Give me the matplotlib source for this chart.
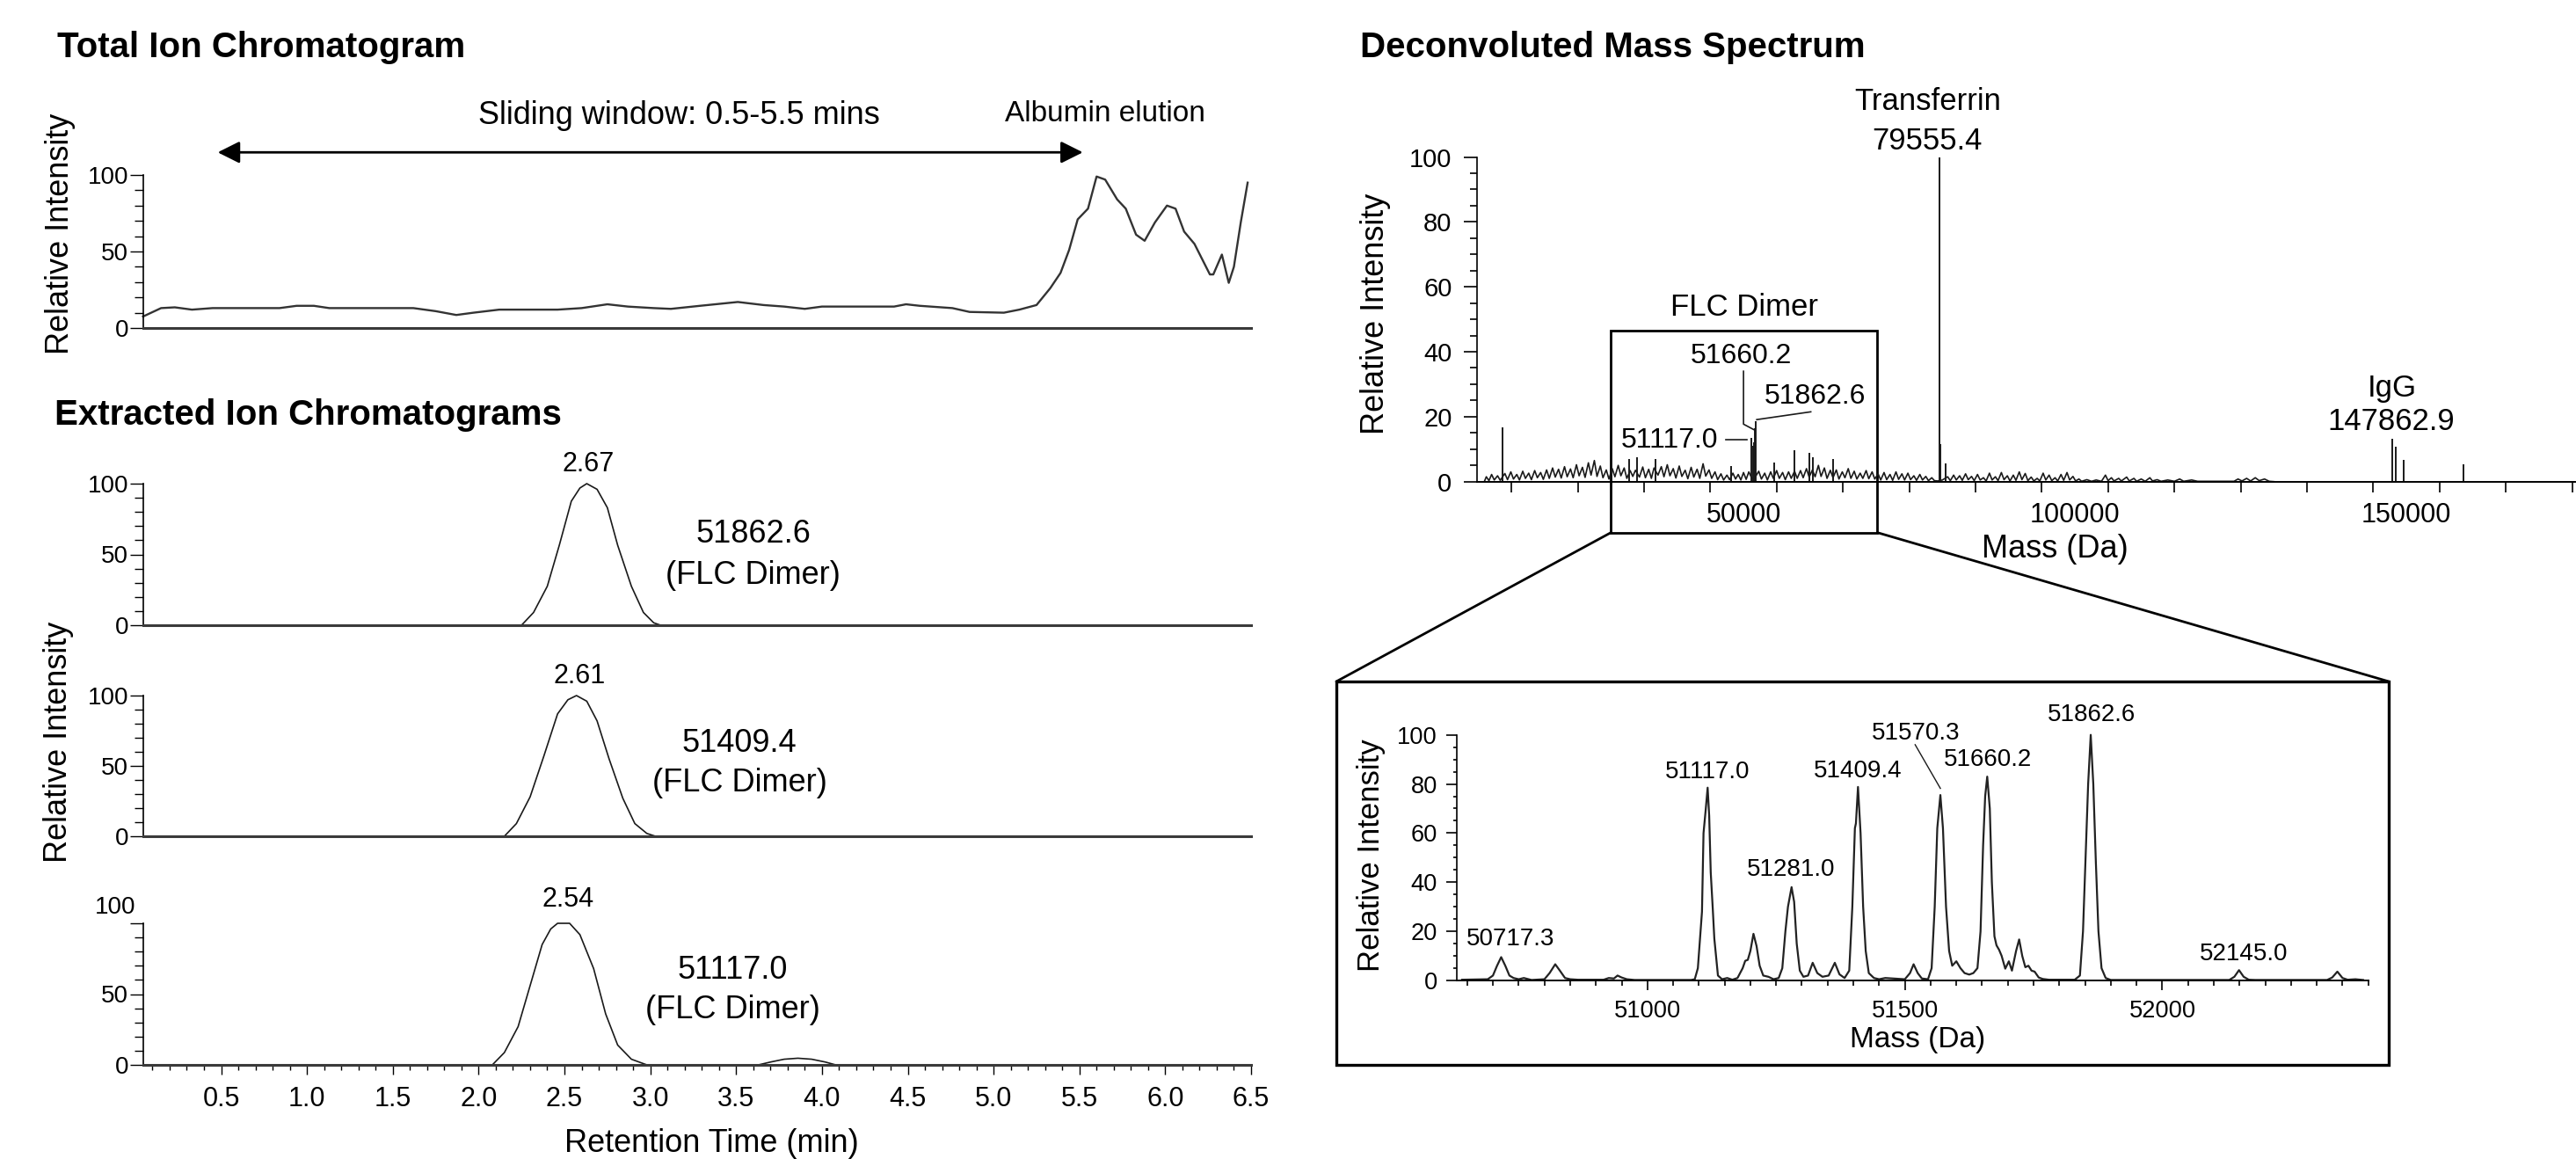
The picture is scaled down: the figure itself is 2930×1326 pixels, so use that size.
import numpy as np
import matplotlib
matplotlib.use('Agg')
import matplotlib.pyplot as plt
from matplotlib.ticker import MultipleLocator, FormatStrFormatter
from matplotlib.patches import Rectangle, ConnectionPatch

plt.rcParams['font.family'] = ['Liberation Sans', 'DejaVu Sans']

# ---- total ion chromatogram (min, %)
tic_time = [0.045, 0.15, 0.23, 0.33, 0.45, 0.84, 0.94, 1.04, 1.13, 1.62, 1.75, 1.87, 1.97, 2.12,
            2.46, 2.60, 2.75, 2.87, 3.02, 3.12, 3.29, 3.51, 3.66, 3.78, 3.90, 4.00, 4.42, 4.49,
            4.57, 4.76, 4.86, 5.06, 5.15, 5.25, 5.33, 5.39, 5.44, 5.49, 5.55, 5.60, 5.65, 5.72,
            5.77, 5.83, 5.88, 5.94, 6.01, 6.06, 6.11, 6.17, 6.26, 6.28, 6.33, 6.37, 6.40, 6.44, 6.48]
tic_int = [7.5, 13, 13.5, 12, 13, 13, 14.5, 14.5, 13, 13, 11, 8.5, 10, 12,
           12, 13, 15.5, 14, 13, 12.5, 14.5, 17, 15, 14, 12.5, 14, 14, 15.5,
           14.5, 13, 10.5, 10, 12, 15, 26, 36, 51, 71, 78, 99, 97, 84,
           78, 61, 57, 69, 80, 78, 63, 55, 35, 35, 48, 29.5, 40, 69, 95]

# ---- extracted ion chromatograms
eic1_time = [2.25, 2.32, 2.40, 2.47, 2.54, 2.59, 2.63, 2.69, 2.75, 2.81, 2.89, 2.96, 3.02, 3.06]
eic1_int = [0, 9, 27.5, 56.5, 87.6, 96.9, 100, 96, 83, 56.5, 27.5, 9, 1.7, 0]
eic2_time = [2.15, 2.22, 2.30, 2.38, 2.46, 2.52, 2.57, 2.63, 2.69, 2.76, 2.84, 2.91, 2.98, 3.03]
eic2_int = [0, 9, 28, 57, 87, 97, 100, 96, 82, 55, 27, 9, 2, 0]
eic3_time = [2.08, 2.15, 2.23, 2.30, 2.37, 2.42, 2.46, 2.53, 2.59, 2.67, 2.74, 2.81, 2.89, 2.98,
             3.63, 3.70, 3.78, 3.86, 3.94, 4.02, 4.08]
eic3_int = [0, 8.7, 27, 56, 85, 96, 100, 100, 92, 68, 36, 14, 4, 0,
            0, 2, 4, 4.7, 4, 2, 0]
eic_rt = ['2.67', '2.61', '2.54']
eic_rt_pos = [(2.64, 113.5), (2.59, 113.5), (2.52, 116.6)]
eic_mass = ['51862.6', '51409.4', '51117.0']
eic_mass_pos = [(3.60, 64, 35), (3.52, 66, 38), (3.48, 67, 39)]

# ---- deconvoluted spectrum: noise profile (kDa, %)
noise_kda = [10.9, 11.2, 11.6, 12.0, 12.4, 12.9, 13.3, 14.0, 14.4, 14.9,
             15.3, 15.8, 16.2, 16.7, 17.1, 17.6, 18.0, 18.5, 18.9, 19.4,
             19.8, 20.3, 20.7, 21.2, 21.6, 22.1, 22.5, 23.0, 23.4, 23.9,
             24.3, 24.8, 25.2, 25.7, 26.1, 26.6, 27.0, 27.5, 27.9, 28.4,
             28.8, 29.3, 29.7, 30.2, 30.6, 31.1, 31.5, 32.0, 32.4, 32.9,
             33.3, 33.7, 34.3, 34.8, 35.2, 35.7, 36.1, 36.5, 37.1, 37.6,
             38.0, 38.5, 38.9, 39.4, 39.8, 40.3, 40.7, 41.2, 41.6, 42.1,
             42.5, 43.0, 43.4, 43.9, 44.3, 44.8, 45.2, 45.7, 46.1, 46.6,
             47.0, 47.5, 47.9, 48.4, 48.8, 49.2, 49.6, 50.0, 50.4, 50.8,
             51.3, 51.8, 52.3, 52.7, 53.2, 53.6, 54.1, 54.5, 55.0, 55.4,
             55.9, 56.3, 56.8, 57.2, 57.7, 58.1, 58.6, 59.0, 59.5, 59.9,
             60.4, 60.8, 61.3, 61.7, 62.2, 62.6, 63.1, 63.5, 64.0, 64.4,
             64.9, 65.3, 65.8, 66.2, 66.7, 67.1, 67.6, 68.0, 68.5, 68.9,
             69.4, 69.8, 70.3, 70.7, 71.2, 71.6, 72.1, 72.5, 73.0, 73.4,
             73.9, 74.3, 74.8, 75.2, 75.7, 76.1, 76.6, 77.0, 77.5, 77.9,
             78.4, 78.8, 79.3, 80.0, 80.8, 81.2, 81.7, 82.1, 82.6, 83.0,
             83.5, 83.9, 84.4, 84.8, 85.3, 85.7, 86.2, 86.6, 87.1, 87.5,
             88.0, 88.4, 88.9, 89.3, 89.8, 90.2, 90.7, 91.1, 91.6, 92.0,
             92.5, 92.9, 93.4, 93.8, 94.3, 94.7, 95.2, 95.6, 96.1, 96.5,
             97.0, 97.4, 97.9, 98.3, 98.8, 99.2, 99.7, 100.1, 100.6, 101.0,
             101.8, 102.5, 103.2, 104.0, 104.6, 105.0, 105.5, 105.9, 106.6, 107.0,
             107.8, 108.2, 108.9, 109.3, 110.0, 110.6, 111.3, 111.7, 112.4, 113.0,
             114.0, 115.0, 115.8, 116.4, 117.6, 118.5, 124.0, 124.6, 125.2, 125.9,
             126.5, 127.2, 127.8, 128.6, 129.3, 130.0]
noise_int = [0, 1.5, 0.3, 2.2, 0.5, 1.8, 0.4, 2.5, 0.6, 3.0,
             0.8, 2.2, 0.5, 3.2, 1.0, 2.6, 0.6, 3.4, 1.2, 2.8,
             0.7, 3.6, 1.0, 4.2, 1.4, 3.8, 1.1, 4.6, 1.5, 3.9,
             1.2, 5.2, 1.8, 4.4, 1.3, 5.8, 2.0, 6.5, 1.6, 4.8,
             1.2, 3.6, 0.8, 4.0, 1.5, 5.0, 1.8, 4.2, 1.0, 3.4,
             1.6, 3.5, 1.4, 4.5, 1.2, 3.8, 1.0, 4.2, 2.0, 4.6,
             1.5, 5.2, 1.8, 4.0, 1.1, 4.8, 1.6, 3.5, 0.9, 4.4,
             1.4, 3.8, 1.0, 5.5, 1.7, 3.6, 1.0, 3.0, 0.6, 2.4,
             0.5, 2.0, 0.6, 2.6, 0.8, 2.2, 0.5, 2.8, 0.7, 3.0,
             0.8, 1.5, 3.2, 0.8, 2.6, 0.5, 3.0, 1.0, 3.4, 1.0,
             2.8, 0.6, 3.0, 1.0, 3.2, 1.0, 3.4, 1.2, 4.0, 1.4,
             3.6, 1.5, 5.0, 1.6, 4.2, 1.0, 3.5, 1.2, 3.6, 0.8,
             3.0, 1.2, 4.0, 1.0, 3.2, 0.8, 2.6, 1.0, 3.4, 0.9,
             3.0, 0.8, 2.4, 0.5, 2.8, 0.6, 2.2, 0.4, 3.0, 0.7,
             2.4, 0.5, 2.6, 0.6, 1.8, 0.4, 2.2, 0.5, 1.6, 0.3,
             1.2, 0.3, 0.2, 0.5, 1.5, 0.3, 2.0, 0.5, 1.8, 0.4,
             2.4, 0.6, 1.6, 0.3, 2.2, 0.5, 1.2, 0.2, 2.6, 0.5,
             1.5, 0.3, 2.8, 0.6, 1.8, 0.2, 2.0, 0.4, 3.0, 0.6,
             2.5, 0.3, 1.4, 0.2, 1.0, 0.2, 2.6, 0.5, 2.0, 0.3,
             1.2, 0.2, 2.2, 0.4, 2.8, 0.5, 1.6, 0.2, 0.8, 0.1,
             0.6, 0.1, 0.5, 0.1, 2.0, 0.3, 1.2, 0.2, 1.0, 0.2,
             1.4, 0.2, 1.0, 0.1, 0.8, 0.1, 1.2, 0.2, 0.6, 0.1,
             0.5, 0.1, 0.8, 0.1, 0.5, 0.1, 0.1, 0.8, 0.2, 1.0,
             0.2, 1.2, 0.3, 0.8, 0.1, 0]

# ---- deconvoluted spectrum: distinct peaks (Da, %)
peak_mass = [13630, 32700, 33900, 36700, 48150, 51117.0, 51409.4, 51570.3, 51660.2, 51862.6,
             54600, 57700, 59900, 60400, 63500, 79555.4, 79690, 80450,
             147862.9, 148400, 149600, 158550]
peak_int = [16.8, 7.0, 7.5, 7.0, 4.7, 13.5, 11, 12, 16.5, 18.7,
            6.0, 9.8, 8.9, 7.5, 7.0, 100, 11.7, 5.6,
            13.3, 10.8, 6.6, 5.3]

# ---- zoomed FLC dimer region (Da, %)
zoom_mass = [50640, 50690, 50700, 50708, 50716, 50724, 50732, 50740, 50750, 50760, 50775,
             50800, 50810, 50821, 50830, 50840, 50850, 50865, 50915, 50925, 50935, 50942,
             50950, 50960, 50975, 51085, 51092, 51098, 51106, 51109, 51113, 51117, 51120,
             51123, 51127, 51130, 51137, 51145, 51155, 51165, 51175, 51185, 51190, 51195,
             51200, 51206, 51212, 51218, 51225, 51235, 51245, 51255, 51262, 51268, 51273,
             51280, 51285, 51290, 51296, 51303, 51312, 51321, 51330, 51340, 51352, 51364,
             51373, 51383, 51392, 51398, 51403, 51405, 51409, 51414, 51419, 51424, 51430,
             51440, 51450, 51462, 51500, 51510, 51517, 51525, 51533, 51545, 51552, 51558,
             51563, 51569, 51574, 51580, 51586, 51592, 51600, 51608, 51616, 51625, 51633,
             51641, 51647, 51652, 51656, 51660, 51665, 51669, 51674, 51678, 51683, 51688,
             51695, 51702, 51708, 51716, 51722, 51728, 51734, 51740, 51746, 51752, 51760,
             51768, 51780, 51830, 51840, 51846, 51851, 51856, 51861, 51866, 51871, 51876,
             51882, 51890, 51900, 52130, 52140, 52149, 52158, 52168, 52180, 52320, 52330,
             52340, 52350, 52360, 52375, 52390]
zoom_int = [0.3, 0.5, 2, 6, 9.5, 6, 2, 1, 0.5, 1, 0.2,
            0.5, 3, 6.6, 4, 1, 0.5, 0.3, 0.3, 1, 0.8, 2,
            1.2, 0.5, 0.2, 0.2, 0.5, 5, 28, 60, 69, 78.5, 67,
            44, 29, 17, 2, 0.5, 1, 0.3, 1, 5, 8, 8.4,
            12, 19, 14, 6, 2, 1.5, 0.5, 1, 5, 20, 30,
            38, 32, 15, 4, 1.5, 2, 7.2, 3, 1.5, 2, 7.2,
            2.5, 1, 4, 30, 62, 64, 78.8, 60, 30, 12, 3,
            1, 0.5, 1, 0.5, 3, 6.6, 3, 0.8, 0.5, 5, 30,
            62, 75.5, 62, 30, 12, 6, 7.8, 5, 3, 2.4, 3,
            5, 20, 55, 75, 83, 70, 40, 18, 14.3, 12.5, 10,
            4.8, 7.8, 4, 12, 16.7, 10, 5.4, 6, 4, 3.6, 1.2,
            0.6, 0.3, 0.3, 2, 20, 50, 80, 100, 80, 48, 20,
            5, 1, 0.2, 0.2, 1.5, 4.2, 1.5, 0.3, 0.2, 0.2, 1.2,
            3.6, 1.0, 0.3, 0.5, 0.2]
zoom_labels = ['50717.3', '51117.0', '51281.0', '51409.4', '51570.3', '51660.2', '51862.6', '52145.0']
zoom_label_pos = [(50734, 16.7), (51116, 85), (51279, 45), (51408, 85.3),
                  (51522, 100.6), (51661, 89.9), (51862, 108), (52158, 10.7)]

W, H = 2930, 1326


def fx(px):
    return px / W


def fy(py):
    return 1 - py / H


def box(x0, y0, x1, y1):
    return [fx(x0), fy(y1), (x1 - x0) / W, (y1 - y0) / H]


fig = plt.figure(figsize=(W / 200, H / 200), dpi=200)
ink = '#1a1a1a'


def chrom_axes(rect, xticks=False):
    ax = fig.add_axes(rect)
    ax.set_xlim(0.045, 6.5)
    ax.set_ylim(0, 100)
    ax.spines['top'].set_visible(False)
    ax.spines['right'].set_visible(False)
    ax.spines['left'].set_linewidth(0.6)
    ax.spines['bottom'].set_linewidth(1.1)
    ax.spines['bottom'].set_color('#3a3a3a')
    ax.set_yticks([0, 50, 100])
    ax.yaxis.set_minor_locator(MultipleLocator(10))
    ax.tick_params(axis='y', which='major', length=5.4, width=0.5, pad=0.5, labelsize=10)
    ax.tick_params(axis='y', which='minor', length=3.5, width=0.5)
    if xticks:
        ax.xaxis.set_major_locator(MultipleLocator(0.5))
        ax.xaxis.set_minor_locator(MultipleLocator(0.1))
        ax.xaxis.set_major_formatter(FormatStrFormatter('%.1f'))
        ax.tick_params(axis='x', which='major', length=4, width=0.5, pad=4.7, labelsize=11)
        ax.tick_params(axis='x', which='minor', length=2.2, width=0.5)
    else:
        ax.tick_params(axis='x', which='both', bottom=False, labelbottom=False)
    return ax


# total ion chromatogram
ax_tic = chrom_axes(box(162.7, 199, 1423, 373))
ax_tic.plot(tic_time, tic_int, color='#333333', lw=0.85, clip_on=False)
ax_tic.annotate('', xy=(0.48, 114.8), xytext=(5.52, 114.8), annotation_clip=False,
                arrowprops=dict(arrowstyle='<|-|>,head_length=0.4,head_width=0.2',
                                mutation_scale=19, lw=1.0, color='black', shrinkA=0, shrinkB=0))
ax_tic.text(3.17, 138.7, 'Sliding window: 0.5-5.5 mins', ha='center', va='center', fontsize=13)
ax_tic.text(5.65, 140, 'Albumin elution', ha='center', va='center', fontsize=12)

# extracted ion chromatograms
eic_axes = [chrom_axes(box(162.7, 550, 1423, 711)),
            chrom_axes(box(162.7, 791, 1423, 951)),
            chrom_axes(box(162.7, 1050, 1423, 1211), xticks=True)]
eic_data = [(eic1_time, eic1_int), (eic2_time, eic2_int), (eic3_time, eic3_int)]
for ax, (t, v), rt, (rx, ry), m, (mx, my1, my2) in zip(eic_axes, eic_data, eic_rt, eic_rt_pos,
                                                        eic_mass, eic_mass_pos):
    ax.plot(t, v, color=ink, lw=0.6, clip_on=False)
    ax.text(rx, ry, rt, ha='center', va='center', fontsize=11)
    ax.text(mx, my1, m, ha='center', va='center', fontsize=13)
    ax.text(mx, my2, '(FLC Dimer)', ha='center', va='center', fontsize=13)

# third panel has its "100" label sitting a little higher
eic_axes[2].set_yticklabels(['0', '50', ''])
eic_axes[2].annotate('100', xy=(0, 100), xycoords=('axes fraction', 'data'), xytext=(-11.3, 6.5),
                     textcoords='offset points', ha='center', va='center', fontsize=10,
                     annotation_clip=False)

# deconvoluted mass spectrum
ax_ms = fig.add_axes(box(1680, 178.5, 2928.6, 547.7))
ax_ms.set_xlim(9800, 175400)
ax_ms.set_ylim(0, 100)
for s in ['top', 'right']:
    ax_ms.spines[s].set_visible(False)
ax_ms.spines['left'].set_linewidth(0.6)
ax_ms.spines['bottom'].set_linewidth(0.7)
ax_ms.plot(np.array(noise_kda) * 1000, noise_int, color=ink, lw=0.6)
ax_ms.vlines(peak_mass, 0, peak_int, color=ink, lw=0.7)
ax_ms.set_xticks([50000, 100000, 150000])
ax_ms.xaxis.set_minor_locator(MultipleLocator(10000, offset=5000))
ax_ms.tick_params(axis='x', which='major', length=0, pad=8.3, labelsize=11)
ax_ms.tick_params(axis='x', which='minor', length=4.3, width=0.6)
ax_ms.yaxis.set_major_locator(MultipleLocator(20))
ax_ms.yaxis.set_minor_locator(MultipleLocator(5))
ax_ms.tick_params(axis='y', which='major', length=5.3, width=0.6, pad=5, labelsize=10.5)
ax_ms.tick_params(axis='y', which='minor', length=3, width=0.6)

ax_ms.text(77785, 117, 'Transferrin', ha='center', va='center', fontsize=12.5)
ax_ms.text(77665, 104.9, '79555.4', ha='center', va='center', fontsize=12.5)
ax_ms.text(147800, 28.9, 'IgG', ha='center', va='center', fontsize=12.5)
ax_ms.text(147710, 18.4, '147862.9', ha='center', va='center', fontsize=12.5)
ax_ms.text(50100, 53.6, 'FLC Dimer', ha='center', va='center', fontsize=12.5)
ax_ms.text(49700, 38.7, '51660.2', ha='center', va='center', fontsize=11.5)
ax_ms.text(60735, 26.1, '51862.6', ha='center', va='center', fontsize=11.5)
ax_ms.text(38810, 12.6, '51117.0', ha='center', va='center', fontsize=11.5)
ax_ms.plot([50000, 50000, 51660], [34, 17.7, 15.9], color=ink, lw=0.6)
ax_ms.plot([52000, 60150], [19.1, 21.5], color=ink, lw=0.6)
ax_ms.plot([47270, 50520], [12.8, 12.8], color=ink, lw=0.6)

flc_box = Rectangle((30000, -15.7), 40200, 62.3, fill=False, lw=1.0, ec='black', clip_on=False)
ax_ms.add_patch(flc_box)

# zoomed inset
fig.add_artist(Rectangle((fx(1520), fy(1211)), (2717 - 1520) / W, (1211 - 775) / H,
                         transform=fig.transFigure, fill=False, lw=1.2, ec='black'))
for xa, xb in [(30000, 1520), (70200, 2717)]:
    con = ConnectionPatch(xyA=(xa, -15.7), coordsA=ax_ms.transData,
                          xyB=(fx(xb), fy(775)), coordsB=fig.transFigure, lw=1.0, color='black')
    fig.add_artist(con)

ax_in = fig.add_axes(box(1657.1, 835.7, 2693.7, 1115))
ax_in.set_xlim(50630, 52400)
ax_in.set_ylim(0, 100)
for s in ['top', 'right']:
    ax_in.spines[s].set_visible(False)
ax_in.spines['left'].set_linewidth(0.6)
ax_in.spines['bottom'].set_linewidth(0.7)
ax_in.plot(zoom_mass, zoom_int, color='#222222', lw=0.8, clip_on=False)
ax_in.xaxis.set_major_locator(MultipleLocator(500))
ax_in.xaxis.set_minor_locator(MultipleLocator(50))
ax_in.tick_params(axis='x', which='major', length=4, width=0.6, pad=4, labelsize=9.8)
ax_in.tick_params(axis='x', which='minor', length=2, width=0.6)
ax_in.yaxis.set_major_locator(MultipleLocator(20))
ax_in.yaxis.set_minor_locator(MultipleLocator(5))
ax_in.tick_params(axis='y', which='major', length=4.3, width=0.6, pad=3.7, labelsize=9.8)
ax_in.tick_params(axis='y', which='minor', length=1.5, width=0.6)
for lab, (lx, ly) in zip(zoom_labels, zoom_label_pos):
    ax_in.text(lx, ly, lab, ha='center', va='center', fontsize=10)
ax_in.plot([51520, 51569], [96, 78.2], color=ink, lw=0.5, clip_on=False)

# titles and axis labels
fig.text(fx(65), fy(65.4), 'Total Ion Chromatogram', fontsize=14.5, fontweight='bold', va='baseline')
fig.text(fx(62), fy(483), 'Extracted Ion Chromatograms', fontsize=14.5, fontweight='bold', va='baseline')
fig.text(fx(1547), fy(65), 'Deconvoluted Mass Spectrum', fontsize=14.5, fontweight='bold', va='baseline')

fig.text(fx(68), fy(266), 'Relative Intensity', rotation=90, ha='center', va='center', fontsize=13)
fig.text(fx(66), fy(844), 'Relative Intensity', rotation=90, ha='center', va='center', fontsize=13)
fig.text(fx(1564), fy(356.6), 'Relative Intensity', rotation=90, ha='center', va='center', fontsize=13)
fig.text(fx(1559), fy(972.5), 'Relative Intensity', rotation=90, ha='center', va='center', fontsize=12.5)
fig.text(fx(809.6), fy(1300), 'Retention Time (min)', ha='center', va='center', fontsize=13)
fig.text(fx(2337), fy(625), 'Mass (Da)', ha='center', va='center', fontsize=13)
fig.text(fx(2181.6), fy(1183), 'Mass (Da)', ha='center', va='center', fontsize=12)

fig.savefig('out.png', dpi=200, facecolor='white')
